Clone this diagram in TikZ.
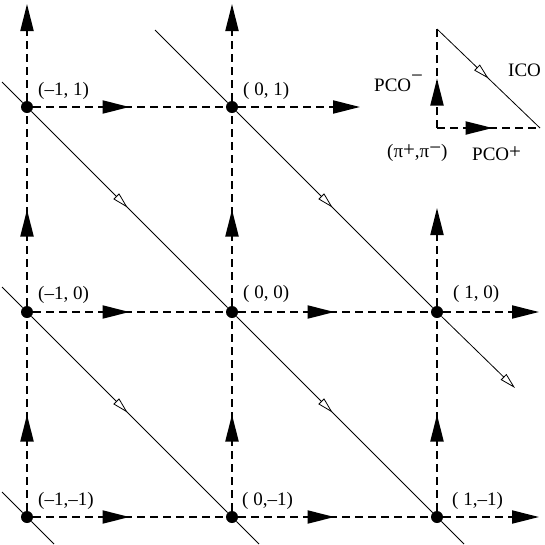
\documentclass[tikz,border=0pt]{standalone}
\usepackage{fontspec}
\setmainfont{Liberation Serif}
\usetikzlibrary{arrows.meta,decorations.markings}
\newcommand\mysup[2]{\raisebox{#1}{\fontsize{21}{21}\selectfont #2}}
\tikzset{
  dot/.style={circle,fill=black,inner sep=0pt,minimum size=12pt},
  flow/.style={line width=2pt,dash pattern=on 8pt off 5pt},
  cone/.style={line width=0.8pt},
  fhead/.tip={Triangle[length=27pt,width=13pt]},
  ohead/.tip={Triangle[length=16pt,width=8pt,fill=white]},
  midf/.default=0.5,
  midf/.style={postaction={decorate},decoration={markings,mark=at position #1 with {\arrow{fhead}}}},
  mido/.default=0.49,
  mido/.style={postaction={decorate},decoration={markings,mark=at position #1 with {\arrow{ohead}}}},
  endf/.style={-fhead},
  endo/.style={-ohead},
  lbl/.style={font=\fontsize{19}{22}\selectfont,inner sep=0pt,anchor=base west},
}
\begin{document}
\begin{tikzpicture}[x=1pt,y=-1pt]
\useasboundingbox (0,0) rectangle (545,544);
% lattice points
\node[dot] (p11) at (27,107) {};
\node[dot] (p21) at (232,107) {};
\node[dot] (p12) at (27,312) {};
\node[dot] (p22) at (232,312) {};
\node[dot] (p32) at (437,312) {};
\node[dot] (p13) at (27,517) {};
\node[dot] (p23) at (232,517) {};
\node[dot] (p33) at (437,517) {};
% free ends
\coordinate (t1) at (27,4);
\coordinate (t2) at (232,4);
\coordinate (t3) at (437,208);
\coordinate (r1) at (360,107);
\coordinate (r2) at (539,312);
\coordinate (r3) at (539,517);
\coordinate (d1s) at (155,30);
\coordinate (d1e) at (515,388);
\coordinate (d2s) at (2,82);
\coordinate (d2e) at (464,544);
\coordinate (d3s) at (2,287);
\coordinate (d3e) at (259,544);
\coordinate (d4s) at (2,492);
\coordinate (d4e) at (54,544);
% vertical dashed
\draw[flow,midf] (p13) -- (p12);
\draw[flow,midf] (p12) -- (p11);
\draw[flow,endf] (p11) -- (t1);
\draw[flow,midf] (p23) -- (p22);
\draw[flow,midf] (p22) -- (p21);
\draw[flow,endf] (p21) -- (t2);
\draw[flow,midf] (p33) -- (p32);
\draw[flow,endf] (p32) -- (t3);
% horizontal dashed
\draw[flow,midf] (p11) -- (p21);
\draw[flow,endf] (p21) -- (r1);
\draw[flow,midf] (p12) -- (p22);
\draw[flow,midf] (p22) -- (p32);
\draw[flow,endf] (p32) -- (r2);
\draw[flow,midf] (p13) -- (p23);
\draw[flow,midf] (p23) -- (p33);
\draw[flow,endf] (p33) -- (r3);
% diagonals
\draw[cone] (d1s) -- (p21);
\draw[cone,mido] (p21) -- (p32);
\draw[cone,endo] (p32) -- (d1e);
\draw[cone] (d2s) -- (p11);
\draw[cone,mido] (p11) -- (p22);
\draw[cone,mido] (p22) -- (p33);
\draw[cone] (p33) -- (d2e);
\draw[cone] (d3s) -- (p12);
\draw[cone,mido] (p12) -- (p23);
\draw[cone] (p23) -- (d3e);
\draw[cone] (d4s) -- (p13);
\draw[cone] (p13) -- (d4e);
% labels
\node[lbl] (l11) at (38,95) {(–1, 1)};
\node[lbl] (l21) at (243,95) {( 0, 1)};
\node[lbl] (l12) at (38,299) {(–1, 0)};
\node[lbl] (l22) at (243,298) {( 0, 0)};
\node[lbl] (l32) at (453,298) {( 1, 0)};
\node[lbl] (l13) at (38,505) {(–1,–1)};
\node[lbl] (l23) at (242,505) {( 0,–1)};
\node[lbl] (l33) at (452,505) {( 1,–1)};
% legend
\coordinate (lc) at (437,128);
\coordinate (lt) at (437,29);
\coordinate (lr) at (540,128);
\draw[flow,midf] (lc) -- (lt);
\draw[flow,midf=0.54] (lc) -- (lr);
\draw[cone,mido=0.5] (lt) -- (lr);
\node[lbl] (lpm) at (374,91) {PCO\mysup{9pt}{−}};
\node[lbl] (lico) at (508,76) {ICO};
\node[lbl] (lpi) at (387,157) {(π\mysup{1pt}{+},π\mysup{2.5pt}{−})};
\node[lbl] (lpp) at (472,160) {PCO\mysup{1.5pt}{+}};
\end{tikzpicture}
\end{document}
